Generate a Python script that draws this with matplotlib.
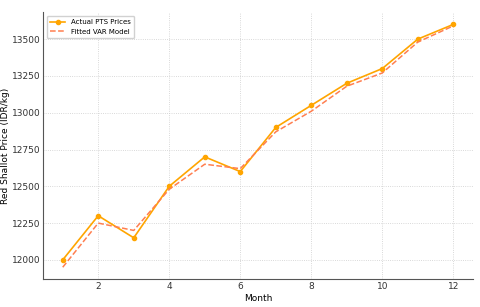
import matplotlib
matplotlib.use("Agg")
import matplotlib.pyplot as plt

months = [1, 2, 3, 4, 5, 6, 7, 8, 9, 10, 11, 12]
actual = [12000, 12300, 12150, 12500, 12700, 12600, 12900, 13050, 13200, 13300, 13500, 13600]
fitted = [11950, 12250, 12200, 12480, 12650, 12620, 12870, 13010, 13180, 13270, 13480, 13590]

plt.rcParams["font.size"] = 6.5

fig, ax = plt.subplots(figsize=(4.8, 3.07), dpi=100)
ax.plot(months, actual, color="#FFA500", marker="o", markersize=3, linewidth=1.2,
        label="Actual PTS Prices")
ax.plot(months, fitted, color="#FF7F50", linestyle="--", linewidth=1.1,
        label="Fitted VAR Model")

ax.set_xlabel("Month", labelpad=2)
ax.set_ylabel("Red Shallot Price (IDR/kg)", labelpad=1)
ax.set_yticks([12000, 12250, 12500, 12750, 13000, 13250, 13500])
ax.grid(True, linestyle=":", color="#cccccc", linewidth=0.6)
for s in ["top", "right"]:
    ax.spines[s].set_visible(False)
for s in ["left", "bottom"]:
    ax.spines[s].set_color("#555555")
ax.tick_params(length=0, pad=2, colors="#333333")
ax.legend(loc="upper left", fontsize=5, frameon=True, framealpha=0.9,
          handlelength=2.2, borderpad=0.5)

fig.subplots_adjust(left=0.09, right=0.985, top=0.96, bottom=0.09)
fig.savefig("out.png", dpi=100)
